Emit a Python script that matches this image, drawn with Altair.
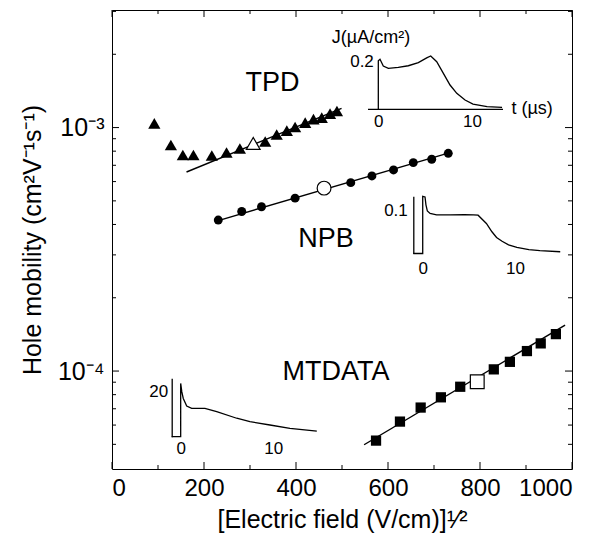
import altair as alt
import pandas as pd

# ---------------- data ----------------
# filled symbols: hole mobility vs sqrt(field)
tpd_field = [92, 128, 154, 177, 217, 249, 278, 333, 358, 380, 398, 420, 438, 456, 474, 489]
tpd_mob = [1.04e-3, 8.48e-4, 7.71e-4, 7.71e-4, 7.68e-4, 7.9e-4, 8.2e-4, 8.77e-4, 9.36e-4,
           9.72e-4, 1.005e-3, 1.048e-3, 1.083e-3, 1.099e-3, 1.141e-3, 1.169e-3]
npb_field = [231, 282, 325, 398, 519, 565, 612, 655, 695, 731]
npb_mob = [4.17e-4, 4.52e-4, 4.73e-4, 5.13e-4, 5.94e-4, 6.33e-4, 6.7e-4, 7.18e-4, 7.41e-4, 7.84e-4]
mt_field = [574, 626, 671, 715, 757, 830, 865, 902, 932, 965]
mt_mob = [5.18e-5, 6.2e-5, 7.08e-5, 7.8e-5, 8.62e-5, 1.016e-4, 1.091e-4, 1.208e-4, 1.299e-4, 1.418e-4]

# open symbols
open_material = ["TPD", "NPB", "MTDATA"]
open_field = [307, 461, 794]
open_mob = [8.61e-4, 5.64e-4, 9.04e-5]

# fitted lines (end points)
fit_material = ["TPD", "TPD", "NPB", "NPB", "MTDATA", "MTDATA"]
fit_field = [162, 499, 231, 731, 548, 985]
fit_mob = [6.57e-4, 1.2e-3, 4.15e-4, 7.85e-4, 4.98e-5, 1.543e-4]

# material labels
label_text = ["TPD", "NPB", "MTDATA"]
label_field = [349, 465, 487]
label_mob = [1.53e-3, 3.49e-4, 9.93e-5]

# axis ticks
x_major = [0, 200, 400, 600, 800, 1000]
x_minor = [100, 300, 500, 700, 900]
y_major = [1e-4, 1e-3]
y_minor = [5e-5, 6e-5, 7e-5, 8e-5, 9e-5, 2e-4, 3e-4, 4e-4, 5e-4, 6e-4, 7e-4, 8e-4, 9e-4, 2e-3, 3e-3]

# inset transients (t in us, J)
tpd_t = [0, 0, 0.18, 0.53, 1.07, 2.13, 3.2, 4.27, 5.16, 5.59, 6.23, 6.94, 7.65, 8.37, 9.25, 10.1, 11.6, 13.2]
tpd_J = [0, 0.204, 0.21, 0.182, 0.172, 0.176, 0.183, 0.196, 0.216, 0.224, 0.2, 0.151, 0.102,
         0.067, 0.039, 0.022, 0.011, 0.008]
tpd_axis_t = [-1.1, 13.3]  # extent of the inset's time axis
npb_t = [-1.02, 0, 0, 0.25, 0.35, 0.5, 0.8, 1.5, 3, 4.5, 5.5, 6.0, 6.9, 7.5, 8.0, 8.6, 9.3,
         10.2, 11.5, 12.7, 14.9]
npb_J = [0, 0, 0.1315, 0.13, 0.112, 0.098, 0.092, 0.089, 0.089, 0.0895, 0.089, 0.088, 0.069,
         0.05, 0.037, 0.028, 0.02, 0.014, 0.009, 0.0064, 0.004]
mt_t = [-0.97, 0, 0, 0.12, 0.28, 0.65, 1.19, 2.62, 3.89, 6.05, 7.48, 9.64, 11.8, 14.7]
mt_J = [0, 0, 23.7, 20, 17, 13.6, 12.6, 12.6, 11.1, 8.2, 6.7, 5.2, 3.7, 2.5]

# TPD inset texts
tpd_inset_text = ["J(µA/cm²)", "t (µs)"]
tpd_inset_t = [-0.78, 14.2]
tpd_inset_J = [0.30, 0.0]

# ---------------- layout ----------------
FONT = "Liberation Sans"
W, H = 460, 459
OX, OY = 112, 10  # page position of plot origin
MAJ, MIN = 7, 4


def px(v):
    return v - OX


def py(v):
    return v - OY


x_main = alt.Scale(domain=[0, 1000], nice=False, zero=False)
y_main = alt.Scale(type="log", domain=[3.96e-5, 3.04e-3], nice=False)

ax_bottom = alt.Axis(orient="bottom", values=x_major, ticks=False, tickSize=0, domain=False,
                     grid=False, labelFontSize=24, labelPadding=7, labelFont=FONT,
                     labelColor="black", format="d",
                     title="[Electric field (V/cm)]¹⁄²", titleFont=FONT, titleFontSize=25,
                     titleFontWeight="normal", titleColor="black", titleX=W / 2, titleY=50,
                     titleBaseline="middle", titleAlign="center")
ax_left = alt.Axis(orient="left", values=y_major, ticks=False, tickSize=0, domain=False,
                   grid=False, labelFontSize=25, labelPadding=8, labelFont=FONT,
                   labelColor="black",
                   labelExpr="datum.value < 0.0005 ? '10⁻⁴' : '10⁻³'",
                   title="Hole mobility (cm²V⁻¹s⁻¹)", titleFont=FONT, titleFontSize=25,
                   titleFontWeight="normal", titleColor="black", titleX=-80, titleY=H / 2,
                   titleAngle=270, titleBaseline="middle", titleAlign="center")


# every main layer carries the same axis definition, so the shared axes merge cleanly
def X():
    return alt.X("field:Q", scale=x_main, axis=ax_bottom)


def Y():
    return alt.Y("mob:Q", scale=y_main, axis=ax_left)


df_fit = pd.DataFrame({"material": fit_material, "field": fit_field, "mob": fit_mob})
df_tpd = pd.DataFrame({"field": tpd_field, "mob": tpd_mob})
df_npb = pd.DataFrame({"field": npb_field, "mob": npb_mob})
df_mt = pd.DataFrame({"field": mt_field, "mob": mt_mob})
df_open = pd.DataFrame({"material": open_material, "field": open_field, "mob": open_mob})
df_lab = pd.DataFrame({"text": label_text, "field": label_field, "mob": label_mob})

fit = alt.Chart(df_fit).mark_line(color="black", strokeWidth=1.4).encode(
    x=X(), y=Y(), detail="material:N")
tri = alt.Chart(df_tpd).mark_point(shape="triangle-up", filled=True, size=150, color="black",
                                   opacity=1).encode(x=X(), y=Y())
cir = alt.Chart(df_npb).mark_point(shape="circle", filled=True, size=80, color="black",
                                   opacity=1).encode(x=X(), y=Y())
sq = alt.Chart(df_mt).mark_point(shape="square", filled=True, size=105, color="black",
                                 opacity=1).encode(x=X(), y=Y())
opn = alt.Chart(df_open).mark_point(filled=True, fill="white", stroke="black", strokeWidth=1.2,
                                    size=190, opacity=1).encode(
    x=X(), y=Y(),
    shape=alt.Shape("material:N", legend=None,
                    scale=alt.Scale(domain=open_material, range=["triangle-up", "circle", "square"])))
lab = alt.Chart(df_lab).mark_text(font=FONT, fontSize=27, color="black", align="center",
                                  baseline="middle").encode(x=X(), y=Y(), text="text:N")


# inward ticks on all four sides, drawn with the main scales
def xticks(vals, length):
    df = pd.DataFrame({"field": vals})
    base = alt.Chart(df).mark_rule(color="black", strokeWidth=1)
    return [base.encode(x=X(), y=alt.value(H), y2=alt.value(H - length)),
            base.encode(x=X(), y=alt.value(0), y2=alt.value(length))]


def yticks(vals, length):
    df = pd.DataFrame({"mob": vals})
    base = alt.Chart(df).mark_rule(color="black", strokeWidth=1)
    return [base.encode(y=Y(), x=alt.value(0), x2=alt.value(length)),
            base.encode(y=Y(), x=alt.value(W), x2=alt.value(W - length))]


tick_layers = xticks(x_major, MAJ) + xticks(x_minor, MIN) + yticks(y_major, MAJ) + yticks(y_minor, MIN)

main = alt.layer(fit, tri, cir, sq, opn, lab, *tick_layers)


def inset(t, J, xdom, xpage, ydom, ypage, xvals, xlabpad, yvals, ylabpad, ydomain,
          texts=None, baseline=None):
    xs = alt.Scale(domain=xdom, range=[px(xpage[0]), px(xpage[1])], nice=False, zero=False)
    ys = alt.Scale(domain=ydom, range=[py(ypage[0]), py(ypage[1])], nice=False, zero=False)
    # x axis sits at J = 0; y axis at the left end of the x range (or at t = 0)
    x_off = py(ypage[0]) - H
    if ydomain:
        y_pos = px(xpage[0])
    else:
        y_pos = px(xpage[0]) + (0 - xdom[0]) / (xdom[1] - xdom[0]) * (xpage[1] - xpage[0])
    xa = alt.Axis(orient="bottom", offset=x_off, values=xvals, domain=False,
                  ticks=False, tickSize=0, labelPadding=xlabpad, labelFont=FONT,
                  labelFontSize=17, labelColor="black", grid=False, title=None)
    ya = alt.Axis(orient="left", offset=-y_pos, values=yvals, domain=ydomain, domainColor="black",
                  domainWidth=1.3, ticks=False, tickSize=0,
                  labelPadding=ylabpad, labelFont=FONT, labelFontSize=17, labelColor="black",
                  grid=False, title=None)
    df = pd.DataFrame({"i": list(range(len(t))), "t": t, "J": J})
    line = alt.Chart(df).mark_line(color="black", strokeWidth=1.3).encode(
        x=alt.X("t:Q", scale=xs, axis=xa),
        y=alt.Y("J:Q", scale=ys, axis=ya),
        order=alt.Order("i:Q"))
    layers = [line]
    if baseline is not None:
        dfb = pd.DataFrame({"t": [baseline[0]], "t2": [baseline[1]], "J": [0.0]})
        layers.append(alt.Chart(dfb).mark_rule(color="black", strokeWidth=1.2).encode(
            x=alt.X("t:Q", scale=xs, axis=xa), x2="t2:Q",
            y=alt.Y("J:Q", scale=ys, axis=ya)))
    if texts is not None:
        for txt, tt, jj, al in zip(*texts):
            dft = pd.DataFrame({"text": [txt], "t": [tt], "J": [jj]})
            layers.append(alt.Chart(dft).mark_text(font=FONT, fontSize=18, color="black",
                                                   align=al, baseline="middle").encode(
                x=alt.X("t:Q", scale=xs, axis=xa),
                y=alt.Y("J:Q", scale=ys, axis=ya),
                text="text:N"))
    return alt.layer(*layers)


# TPD inset: t=0 at page x 378.3, axis line from 368 to 503, J=0 at y 109.3, 0.2 at y 61.7
ins_tpd = inset(tpd_t, tpd_J, [-1.1, 13.3], [368, 503], [0, 0.2], [109.3, 61.7],
                [0, 10], 4, [0.2], 5, False,
                texts=(tpd_inset_text, tpd_inset_t, tpd_inset_J, ["center", "left"]),
                baseline=tpd_axis_t)
# NPB inset
ins_npb = inset(npb_t, npb_J, [-1.02, 15.2], [413.3, 563], [0, 0.1315], [253.5, 196.3],
                [0, 10], 7, [0.1], 6, True)
# MTDATA inset
ins_mt = inset(mt_t, mt_J, [-0.97, 14.7], [171.7, 316.8], [0, 26], [436.7, 378.2],
               [0, 10], 4, [20], 4, True)

chart = alt.layer(main, ins_tpd, ins_npb, ins_mt).resolve_scale(
    x="independent", y="independent"
).properties(
    width=W, height=H,
    autosize=alt.AutoSizeParams(type="none"),
    padding={"left": OX - 8, "top": OY - 8, "right": 30, "bottom": 70},
).configure_view(stroke="black", strokeWidth=1).configure_axis(grid=False)

chart.save("out.html", embed_options={"renderer": "svg", "actions": False})
